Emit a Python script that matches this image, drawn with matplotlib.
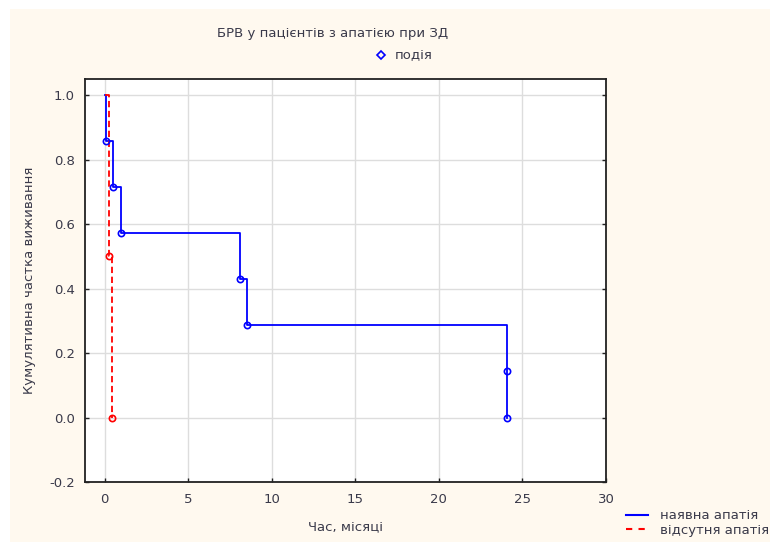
import matplotlib
matplotlib.use("Agg")
from matplotlib import pyplot as plt
from matplotlib.lines import Line2D
from matplotlib.patches import Rectangle

plt.rcParams['font.family'] = ['DejaVu Sans']

# data
t_yes = [0, 0.1, 0.5, 1.0, 8.1, 8.5, 24.1, 24.1]
s_yes = [1.0, 0.857, 0.714, 0.571, 0.429, 0.286, 0.143, 0.0]
t_no = [0, 0.25, 0.45]
s_no = [1.0, 0.5, 0.0]

title = "БРВ у пацієнтів з апатією при ЗД"
xlab = "Час, місяці"
ylab = "Кумулятивна частка виживання"
lab_yes = "наявна апатія"
lab_no = "відсутня апатія"
lab_event = "подія"

txt = '#3a3a4a'
fs = 9.5
fig = plt.figure(figsize=(7.7, 5.42), dpi=100, facecolor='white')
fig.patches.append(Rectangle((10/770, 0), 1, 1 - 9/542, transform=fig.transFigure,
                             facecolor='#fff9ef', edgecolor='none', zorder=-10))
ax = fig.add_axes([84.5/770, 60/542, (606-84.5)/770, (482-79)/542])
ax.set_facecolor('white')

ax.step(t_yes, s_yes, where='post', color='#0000ff', lw=1.3, zorder=3)
ax.plot(t_yes[1:], s_yes[1:], 'o', ms=4.5, mfc='none', mec='#0000ff', mew=1.2, zorder=4)
ax.step(t_no, s_no, where='post', color='#ff0000', lw=1.3, ls=(0, (3.5, 2)), zorder=3)
ax.plot(t_no[1:], s_no[1:], 'o', ms=4.5, mfc='none', mec='#ff0000', mew=1.2, zorder=4)

ax.set_xlim(-1.2, 30)
ax.set_ylim(-0.2, 1.05)
ax.set_xticks([0, 5, 10, 15, 20, 25, 30])
ax.set_yticks([-0.2, 0.0, 0.2, 0.4, 0.6, 0.8, 1.0])
ax.set_yticklabels(['-0.2', '0.0', '0.2', '0.4', '0.6', '0.8', '1.0'])
ax.grid(True, color='#dddddd', lw=1)
ax.set_axisbelow(True)
ax.tick_params(direction='in', length=3, width=1, colors='#222222', labelcolor=txt,
               labelsize=fs, right=True)
ax.tick_params(axis='x', pad=8)
ax.tick_params(axis='y', pad=7)
for sp in ax.spines.values():
    sp.set_color('#222222')
    sp.set_linewidth(1.3)

ax.set_xlabel(xlab, fontsize=fs, color=txt, va='center')
ax.set_ylabel(ylab, fontsize=fs, color=txt, va='center')
ax.xaxis.set_label_coords(0.5, (482-527)/403)
ax.yaxis.set_label_coords((30-84.5)/521.5, 0.5)
fig.text(333/770, 1 - 33/542, title, fontsize=fs, color=txt, ha='center', va='center')

h_ev = Line2D([], [], marker='D', ls='none', ms=4, mfc='none', mec='#0000ff', mew=1.2)
fig.legend([h_ev], [lab_event], loc='center left', bbox_to_anchor=(368/770, 1 - 56/542),
           frameon=False, fontsize=fs, labelcolor=txt, handlelength=1, handletextpad=0.5,
           borderpad=0)

h_yes = Line2D([], [], color='#0000ff', lw=1.5)
h_no = Line2D([], [], color='#ff0000', lw=1.5, ls=(0, (3, 3)))
fig.legend([h_yes, h_no], [lab_yes, lab_no], loc='center left',
           bbox_to_anchor=(619/770, 1 - 523/542), frameon=False, fontsize=fs,
           labelcolor=txt, handlelength=1.7, handletextpad=0.9, borderpad=0,
           labelspacing=0.1)

fig.savefig('out.png', dpi=100)
